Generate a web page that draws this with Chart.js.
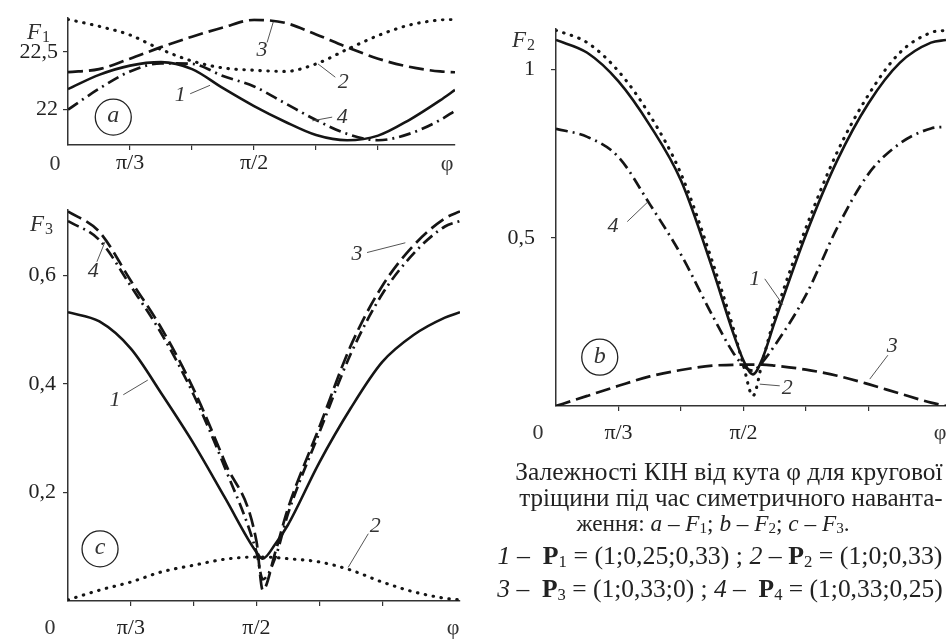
<!doctype html>
<html>
<head>
<meta charset="utf-8">
<script src="https://cdn.jsdelivr.net/npm/chart.js@4.4.1/dist/chart.umd.min.js"></script>
<style>
  body { margin:0; background:#fff; width:946px; height:640px; position:relative; overflow:hidden;
         font-family:'Liberation Serif','Times New Roman',serif; color:#222; }
  canvas { position:absolute; }
  .cap { position:absolute; white-space:nowrap; transform:translate(-50%,-50%); font-size:22px; line-height:1; }
  .cap sub { font-size:0.65em; vertical-align:-0.15em; }
</style>
<script>
// phi grid (in tick units) and curve values for each panel
const phiA = [0,0.5,1,1.5,2,2.5,3,3.5,4,4.5,5,5.5,6,6.24];
const a1 = [22.177,22.3,22.38,22.41,22.35,22.185,22.03,21.895,21.78,21.735,21.775,21.91,22.08,22.17];
const a2 = [22.78,22.72,22.645,22.52,22.42,22.36,22.34,22.33,22.395,22.52,22.64,22.73,22.775,22.78];
const a3 = [22.323,22.35,22.44,22.54,22.63,22.71,22.775,22.75,22.65,22.54,22.44,22.37,22.33,22.323];
const a4 = [22.0,22.18,22.33,22.4,22.395,22.29,22.2,22.055,21.91,21.79,21.735,21.79,21.91,21.99];

const phiB = [0,0.5,1,1.5,2,2.5,2.83,3,3.15,3.3,3.5,4,4.5,5,5.5,6,6.24];
const b1 = [1.088,1.05,0.965,0.835,0.67,0.41,0.22,0.135,0.094,0.14,0.25,0.51,0.73,0.9,1.02,1.08,1.088];
const b2 = [1.117,1.08,0.995,0.865,0.69,0.43,0.235,0.12,0.03,0.13,0.265,0.53,0.755,0.925,1.05,1.11,1.117];
const b3 = [0,0.03,0.06,0.088,0.107,0.12,0.122,0.123,0.123,0.123,0.12,0.108,0.09,0.065,0.037,0.01,0];
const b4 = [0.824,0.8,0.74,0.6,0.45,0.27,0.16,0.12,0.105,0.13,0.18,0.33,0.53,0.69,0.78,0.825,0.83];

const phiC = [0,0.5,1,1.5,2,2.5,3,3.1,3.3,3.5,4,4.5,5,5.5,6,6.24];
const c1 = [0.532,0.515,0.465,0.38,0.29,0.19,0.09,0.078,0.105,0.14,0.255,0.355,0.44,0.49,0.522,0.532];
const c2 = [0.002,0.02,0.035,0.054,0.066,0.077,0.081,0.081,0.08,0.078,0.072,0.057,0.035,0.017,0.005,0.002];
const c3 = [0.718,0.68,0.59,0.5,0.39,0.255,0.11,0.02,0.09,0.17,0.32,0.47,0.58,0.655,0.705,0.718];
const c4 = [0.7,0.665,0.58,0.49,0.38,0.245,0.09,0.04,0.08,0.16,0.31,0.455,0.565,0.64,0.69,0.7];

const xTicks = [1,2,3,4,5];
const xTickText = {1:'π/3', 3:'π/2'};
const yTicksA = [22,22.5];
const yTicksB = [0.5,1];
const yTicksC = [0.2,0.4,0.6];

// line style by curve number 1..4
const styles = [
  {borderDash:[], borderWidth:2.6},
  {borderDash:[0.5,7.5], borderWidth:3.1, borderCapStyle:'round'},
  {borderDash:[15,6], borderWidth:2.7},
  {borderDash:[12,5,2,5], borderWidth:2.7}
];

// curve numbers, leaders, circled letter (data coords)
const notes = {
  ca: { F:'1', letter:{t:'a', x:0.73, y:21.935},
        labels:[{t:'3',x:3.13,y:22.516},{t:'2',x:4.44,y:22.234},{t:'1',x:1.81,y:22.12},{t:'4',x:4.42,y:21.935}],
        leaders:[[3.21,22.58,3.31,22.758],[4.31,22.28,4.03,22.395],[1.97,22.137,2.29,22.21],[4.26,21.935,3.94,21.903]],
        fdx:-41, fdy:21, o0:-13, oy:19, of:-8 },
  cb: { F:'2', letter:{t:'b', x:0.7, y:0.145},
        labels:[{t:'4',x:0.91,y:0.534},{t:'1',x:3.18,y:0.378},{t:'2',x:3.7,y:0.054},{t:'3',x:5.38,y:0.179}],
        leaders:[[1.14,0.548,1.46,0.605],[3.34,0.378,3.63,0.301],[3.58,0.06,3.26,0.065],[5.31,0.151,5.02,0.08]],
        fdx:-44, fdy:18, o0:-18, oy:27, of:-6 },
  cc: { F:'3', letter:{t:'c', x:0.51, y:0.096},
        labels:[{t:'4',x:0.4,y:0.607},{t:'3',x:4.6,y:0.638},{t:'1',x:0.75,y:0.369},{t:'2',x:4.89,y:0.138}],
        leaders:[[0.46,0.625,0.59,0.662],[4.76,0.642,5.37,0.66],[0.88,0.38,1.27,0.407],[4.78,0.124,4.46,0.062]],
        fdx:-38, fdy:21, o0:-18, oy:27, of:-7 }
};

const SERIF = "'Liberation Serif','Times New Roman',serif";

const annot = {
  id:'annot',
  afterDraw(chart){
    const n = notes[chart.canvas.id];
    const c = chart.ctx, xs = chart.scales.x, ys = chart.scales.y, ca = chart.chartArea;
    const px = u => xs.getPixelForValue(u), py = v => ys.getPixelForValue(v);
    c.save();
    c.strokeStyle = '#555'; c.lineWidth = 1;
    n.leaders.forEach(l => { c.beginPath(); c.moveTo(px(l[0]),py(l[1])); c.lineTo(px(l[2]),py(l[3])); c.stroke(); });
    c.fillStyle = '#333'; c.textAlign = 'center'; c.textBaseline = 'middle';
    c.font = 'italic 22px ' + SERIF;
    n.labels.forEach(l => c.fillText(l.t, px(l.x), py(l.y)));
    // circled letter
    const cx = px(n.letter.x), cy = py(n.letter.y);
    c.strokeStyle = '#222'; c.lineWidth = 1.3;
    c.beginPath(); c.arc(cx, cy, 18, 0, Math.PI*2); c.stroke();
    c.font = 'italic 24px ' + SERIF; c.fillText(n.letter.t, cx, cy - 1);
    // F label
    c.textAlign = 'left'; c.textBaseline = 'alphabetic';
    c.font = 'italic 23px ' + SERIF;
    const fx = ca.left + n.fdx, fy = ca.top + n.fdy;
    c.fillText('F', fx, fy);
    const w = c.measureText('F').width;
    c.font = '16px ' + SERIF; c.fillText(n.F, fx + w + 1, fy + 3);
    // origin and phi labels
    c.textAlign = 'center'; c.textBaseline = 'middle'; c.font = '22px ' + SERIF;
    c.fillText('0', ca.left + n.o0, ca.bottom + n.oy);
    c.fillText('φ', ca.right + n.of, ca.bottom + n.oy);
    c.restore();
  }
};

function panel(id, phi, series, yMin, yMax, yTicks, o){
  const axis = {display:true, drawOnChartArea:false, tickLength:5, color:'#333', lineWidth:1.2};
  return new Chart(document.getElementById(id), {
    type:'scatter',
    data:{ datasets: series.map((s,i) => Object.assign({
      data: phi.map((x,j) => ({x:x, y:s[j]})),
      showLine:true, pointRadius:0, borderColor:'#151515', fill:false,
      cubicInterpolationMode:'monotone'
    }, styles[i])) },
    options:{
      responsive:false, animation:false, events:[],
      layout:{padding:{left:0, top:o.top, right:o.right, bottom:0}},
      plugins:{legend:{display:false}, tooltip:{enabled:false}},
      scales:{
        x:{ type:'linear', min:0, max:6.24,
            afterBuildTicks: s => { s.ticks = xTicks.map(v => ({value:v})); },
            afterFit: s => { s.height = o.xh; },
            grid:axis, border:{display:true, color:'#333', width:1.5},
            ticks:{ padding:o.xpad, maxRotation:0, autoSkip:false, color:'#222',
                    font:{family:SERIF, size:22}, callback: v => xTickText[v] || '' } },
        y:{ min:yMin, max:yMax,
            afterBuildTicks: s => { s.ticks = yTicks.map(v => ({value:v})); },
            afterFit: s => { s.width = o.yw; },
            grid:axis, border:{display:true, color:'#333', width:1.5},
            ticks:{ padding:o.ypad, color:'#222', font:{family:SERIF, size:22},
                    callback: v => String(v).replace('.', ',') } }
      }
    },
    plugins:[annot]
  });
}

// scale each caption line to the width it has in the picture
function fitCaption(){
  document.querySelectorAll('.cap').forEach(el => {
    const w = +el.dataset.w;
    el.style.fontSize = (22 * w / el.offsetWidth).toFixed(2) + 'px';
  });
}

function startPage(){
  panel('ca', phiA, [a1,a2,a3,a4], 21.694, 22.79, yTicksA, {top:9, right:15, xh:40, yw:68, xpad:0, ypad:5});
  panel('cb', phiB, [b1,b2,b3,b4], 0, 1.12, yTicksB, {top:12, right:0, xh:54, yw:86, xpad:9, ypad:16});
  panel('cc', phiC, [c1,c2,c3,c4], 0, 0.72, yTicksC, {top:15, right:10, xh:39, yw:68, xpad:9, ypad:7});
  fitCaption();
}
</script>
</head>
<body onload="startPage()">
  <canvas id="ca" width="470" height="185" style="left:0;top:0"></canvas>
  <canvas id="cb" width="476" height="460" style="left:470px;top:0"></canvas>
  <canvas id="cc" width="470" height="450" style="left:0;top:190px"></canvas>

  <div class="cap" data-w="428" style="left:729px;top:472px">Залежності КІН від кута φ для кругової</div>
  <div class="cap" data-w="423" style="left:731px;top:498px">тріщини під час симетричного наванта-</div>
  <div class="cap" data-w="273" style="left:713px;top:524px">ження: <i>a</i> – <i>F</i><sub>1</sub>; <i>b</i> – <i>F</i><sub>2</sub>; <i>c</i> – <i>F</i><sub>3</sub>.</div>
  <div class="cap" data-w="445" style="left:720px;top:557px"><i>1</i> –&nbsp; <b>P</b><sub>1</sub> = (1;0,25;0,33) ; <i>2</i> – <b>P</b><sub>2</sub> = (1;0;0,33)</div>
  <div class="cap" data-w="445" style="left:720px;top:590px"><i>3</i> –&nbsp; <b>P</b><sub>3</sub> = (1;0,33;0) ; <i>4</i> –&nbsp; <b>P</b><sub>4</sub> = (1;0,33;0,25)</div>
</body>
</html>
